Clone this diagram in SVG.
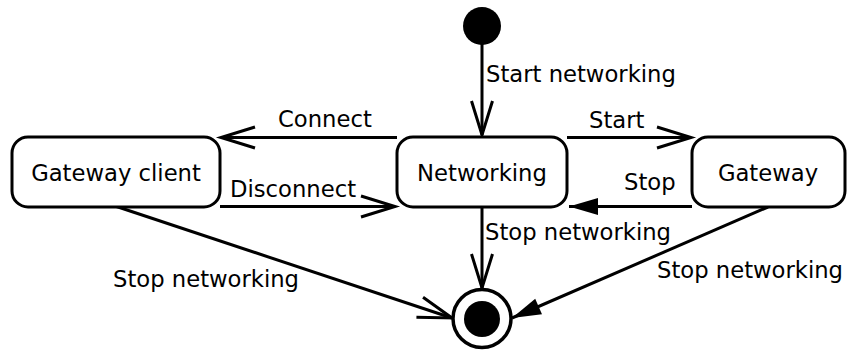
<svg xmlns="http://www.w3.org/2000/svg" width="848" height="350" viewBox="0 0 848 350">
<style>
.node{fill:#fff;stroke:#000;stroke-width:3}
.lbl{font-family:"DejaVu Sans",sans-serif;font-size:22.7px;fill:#000}
.mid{text-anchor:middle}
.edge{stroke:#000;stroke-width:3;fill:none}
</style>
<defs>
<marker id="open" markerUnits="userSpaceOnUse" markerWidth="50" markerHeight="40" viewBox="-40 -20 50 40" refX="0" refY="0" orient="auto">
<path d="M-34,-10.5 L0,0 L-34,10.5" fill="none" stroke="#000" stroke-width="3"/>
</marker>
<marker id="filled" markerUnits="userSpaceOnUse" markerWidth="50" markerHeight="40" viewBox="-40 -20 50 40" refX="0" refY="0" orient="auto">
<path d="M0,0 L-29,-8.5 L-29,8.5 Z" fill="#000" stroke="none"/>
</marker>
</defs>
<g id="connectors">
<line class="edge" x1="482" y1="44" x2="482" y2="135" marker-end="url(#open)"/>
<line class="edge" x1="397" y1="137.5" x2="221" y2="137.5" marker-end="url(#open)"/>
<line class="edge" x1="220" y1="206.5" x2="395" y2="206.5" marker-end="url(#open)"/>
<line class="edge" x1="567" y1="137.5" x2="691" y2="137.5" marker-end="url(#open)"/>
<line class="edge" x1="692" y1="206.5" x2="569" y2="206.5" marker-end="url(#filled)"/>
<line class="edge" x1="482" y1="207" x2="482" y2="288" marker-end="url(#open)"/>
<line class="edge" x1="115" y1="206" x2="452" y2="318" marker-end="url(#open)"/>
<line class="edge" x1="768" y1="207" x2="512" y2="318" marker-end="url(#filled)"/>
<text class="lbl" x="486" y="82">Start networking</text>
<text class="lbl" x="278" y="127">Connect</text>
<text class="lbl" x="230" y="197">Disconnect</text>
<text class="lbl" x="589" y="128">Start</text>
<text class="lbl" x="624" y="190">Stop</text>
<text class="lbl" x="485" y="240">Stop networking</text>
<text class="lbl" x="657" y="278">Stop networking</text>
<text class="lbl" x="113" y="287">Stop networking</text>
</g>
<g id="start">
<circle cx="482" cy="26" r="19" fill="#000"/>
</g>
<g id="networking">
<rect class="node" x="397" y="137" width="170" height="70" rx="16"/>
<text class="lbl mid" x="482" y="181">Networking</text>
</g>
<g id="gateway-client">
<rect class="node" x="12" y="137" width="208" height="70" rx="16"/>
<text class="lbl mid" x="116" y="181">Gateway client</text>
</g>
<g id="gateway">
<rect class="node" x="692" y="137" width="153" height="70" rx="16"/>
<text class="lbl mid" x="768" y="181">Gateway</text>
</g>
<g id="end">
<circle cx="482" cy="318.5" r="29" fill="#fff" stroke="#000" stroke-width="3.5"/>
<circle cx="482" cy="319" r="18" fill="#000"/>
</g>
</svg>
